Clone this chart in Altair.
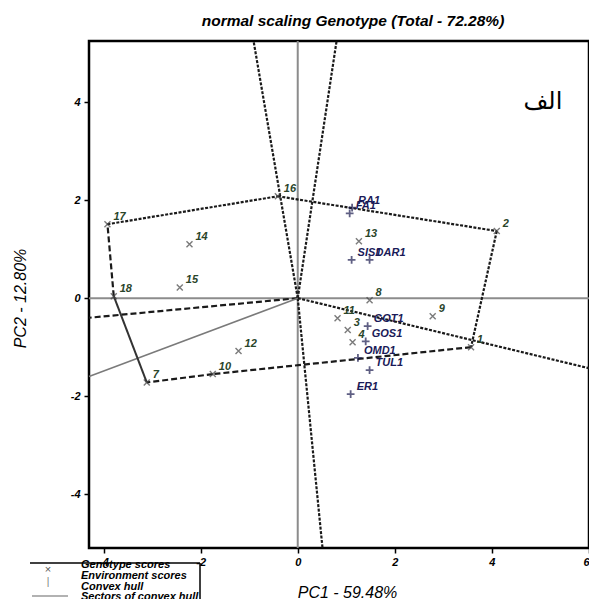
import altair as alt
import pandas as pd

# ---------------- data ----------------
geno_labels = ["1", "2", "3", "4", "7", "8", "9", "10", "11", "12", "13", "14", "15", "16", "17", "18"]
geno_pc1 = [3.57, 4.10, 1.03, 1.13, -3.11, 1.48, 2.78, -1.75, 0.82, -1.22, 1.26, -2.23, -2.43, -0.41, -3.92, -3.79]
geno_pc2 = [-1.00, 1.37, -0.65, -0.90, -1.72, -0.04, -0.37, -1.55, -0.41, -1.08, 1.16, 1.10, 0.22, 2.08, 1.51, 0.04]

env_labels = ["RA1", "FA1", "SIS1", "DAR1", "GOT1", "GOS1", "OMD1", "TUL1", "ER1"]
env_pc1 = [1.12, 1.07, 1.11, 1.48, 1.44, 1.40, 1.24, 1.48, 1.09]
env_pc2 = [1.85, 1.73, 0.78, 0.78, -0.57, -0.88, -1.22, -1.47, -1.96]

# convex hull edges (genotype labels) and their line style
hull_from = ["17", "16", "2", "1", "10", "7", "18"]
hull_to = ["16", "2", "1", "10", "7", "18", "17"]
hull_style = ["short", "short", "short", "long", "long", "solid", "long"]

# sector rays from the origin, end points at the frame
ray_pc1 = [-0.91, 0.80, 6.0, 0.51, -4.3, -4.3]
ray_pc2 = [5.25, 5.25, -1.43, -5.1, -0.40, -1.60]
ray_style = ["short", "short", "short", "short", "long", "solid"]

note_text = ["الف"]
note_pc1 = [5.05]
note_pc2 = [4.0]

legend_labels = ["Genotype scores", "Environment scores", "Convex hull", "Sectors of convex hull"]

# ---------------- tables ----------------
geno = pd.DataFrame({"label": geno_labels, "pc1": geno_pc1, "pc2": geno_pc2})
env = pd.DataFrame({"label": env_labels, "pc1": env_pc1, "pc2": env_pc2})
gx = dict(zip(geno_labels, geno_pc1))
gy = dict(zip(geno_labels, geno_pc2))
hull = pd.DataFrame({
    "pc1": [gx[a] for a in hull_from], "pc2": [gy[a] for a in hull_from],
    "pc1b": [gx[b] for b in hull_to], "pc2b": [gy[b] for b in hull_to],
    "style": hull_style,
})
rays = pd.DataFrame({"pc1": [0.0] * len(ray_pc1), "pc2": [0.0] * len(ray_pc1),
                     "pc1b": ray_pc1, "pc2b": ray_pc2, "style": ray_style})
note = pd.DataFrame({"label": note_text, "pc1": note_pc1, "pc2": note_pc2})
one = pd.DataFrame({"a": [0]})

FONT = "Liberation Sans"
xs = alt.Scale(domain=[-4.3, 6.0], nice=False, zero=False)
ys = alt.Scale(domain=[-5.1, 5.25], nice=False, zero=False)
xaxis = alt.Axis(values=[-4, -2, 0, 2, 4, 6], title="PC1 - 59.48%", grid=False, domain=False,
                 labelExpr="'' + datum.value",
                 tickSize=5, tickWidth=1.5, tickColor="black",
                 labelFont=FONT, labelFontSize=11, labelFontStyle="italic", labelFontWeight="bold",
                 labelColor="black", labelPadding=3,
                 titleFont=FONT, titleFontSize=16, titleFontStyle="italic", titleFontWeight="normal",
                 titleColor="black", titleX=258, titleY=36, titleBaseline="top")
yaxis = alt.Axis(values=[-4, -2, 0, 2, 4], title="PC2 - 12.80%", grid=False, domain=False,
                 labelExpr="'' + datum.value",
                 tickSize=5, tickWidth=1.5, tickColor="black",
                 labelFont=FONT, labelFontSize=11, labelFontStyle="italic", labelFontWeight="bold",
                 labelColor="black", labelPadding=4,
                 titleFont=FONT, titleFontSize=16, titleFontStyle="italic", titleFontWeight="normal",
                 titleColor="black", titleX=-69, titleY=257, titleAngle=270, titleBaseline="middle")
X = alt.X("pc1:Q", scale=xs, axis=xaxis)
Y = alt.Y("pc2:Q", scale=ys, axis=yaxis)

layers = []

# origin axes (grey)
layers.append(alt.Chart(one).mark_rule(color="#8c8c8c", strokeWidth=2).encode(
    x=alt.datum(0, scale=xs, axis=xaxis)))
layers.append(alt.Chart(one).mark_rule(color="#8c8c8c", strokeWidth=2).encode(
    y=alt.datum(0, scale=ys, axis=yaxis)))

styles = {
    "short": dict(color="#1a1a1a", strokeWidth=2.2, strokeDash=[3, 1.5]),
    "long": dict(color="#1a1a1a", strokeWidth=2.2, strokeDash=[6, 3]),
}
for st, kw in styles.items():
    layers.append(alt.Chart(rays).transform_filter(alt.datum.style == st).mark_rule(**kw).encode(
        x=X, y=Y, x2="pc1b:Q", y2="pc2b:Q"))
    layers.append(alt.Chart(hull).transform_filter(alt.datum.style == st).mark_rule(**kw).encode(
        x=X, y=Y, x2="pc1b:Q", y2="pc2b:Q"))
layers.append(alt.Chart(rays).transform_filter(alt.datum.style == "solid").mark_rule(
    color="#7a7a7a", strokeWidth=1.5).encode(x=X, y=Y, x2="pc1b:Q", y2="pc2b:Q"))
layers.append(alt.Chart(hull).transform_filter(alt.datum.style == "solid").mark_rule(
    color="#333333", strokeWidth=2).encode(x=X, y=Y, x2="pc1b:Q", y2="pc2b:Q"))

# markers
layers.append(alt.Chart(geno).mark_point(shape="M-1,-1L1,1M-1,1L1,-1", filled=False, size=36,
                                         color="#444444", strokeWidth=1.4).encode(x=X, y=Y))
layers.append(alt.Chart(env).mark_point(shape="M-1,0L1,0M0,-1L0,1", filled=False, size=60,
                                        color="#1c1c50", strokeWidth=1.8).encode(x=X, y=Y))
# labels
layers.append(alt.Chart(geno).mark_text(align="left", baseline="middle", dx=6, dy=-7, font=FONT,
                                        fontSize=11, fontStyle="italic", fontWeight="bold",
                                        color="#2a452a").encode(x=X, y=Y, text="label:N"))
layers.append(alt.Chart(env).mark_text(align="left", baseline="middle", dx=6, dy=-7, font=FONT,
                                       fontSize=11, fontStyle="italic", fontWeight="bold",
                                       color="#1a1a58").encode(x=X, y=Y, text="label:N"))
layers.append(alt.Chart(note).mark_text(align="center", baseline="middle", font="DejaVu Sans",
                                        fontSize=24, color="black").encode(x=X, y=Y, text="label:N"))

# legend drawn below the frame (plot-pixel positions)
layers.append(alt.Chart(one).mark_rule(color="black", strokeWidth=1.5).encode(
    x=alt.value(-59), x2=alt.value(111), y=alt.value(522)))
layers.append(alt.Chart(one).mark_rule(color="black", strokeWidth=1.5).encode(
    x=alt.value(111), y=alt.value(522), y2=alt.value(575)))
leg_y = [524, 535, 546, 556]
for lab, yy in zip(legend_labels, leg_y):
    layers.append(alt.Chart(one).mark_text(text=lab, align="left", baseline="middle", font=FONT,
                                           fontSize=11, fontStyle="italic", fontWeight="bold",
                                           color="black").encode(x=alt.value(-8), y=alt.value(yy)))
layers.append(alt.Chart(one).mark_text(text="×", align="center", baseline="middle", font=FONT,
                                       fontSize=11, color="#555555").encode(x=alt.value(-41), y=alt.value(529)))
layers.append(alt.Chart(one).mark_text(text="|", align="center", baseline="middle", font=FONT,
                                       fontSize=10, color="#777777").encode(x=alt.value(-41), y=alt.value(541)))
layers.append(alt.Chart(one).mark_rule(color="#999999", strokeWidth=1.5).encode(
    x=alt.value(-57), x2=alt.value(-21), y=alt.value(555)))

chart = alt.layer(*layers).properties(
    width=500, height=507,
    autosize=alt.AutoSizeParams(type="none"),
    padding={"left": 81, "top": 33, "right": 0, "bottom": 51},
    title=alt.Title("normal scaling Genotype (Total - 72.28%)", font=FONT, fontSize=15.5,
                    fontStyle="italic", fontWeight="bold", color="black", anchor="middle",
                    offset=10, dx=14),
).configure_view(stroke="black", strokeWidth=2.5)

chart.save("out.html", embed_options={"renderer": "svg", "actions": False})
